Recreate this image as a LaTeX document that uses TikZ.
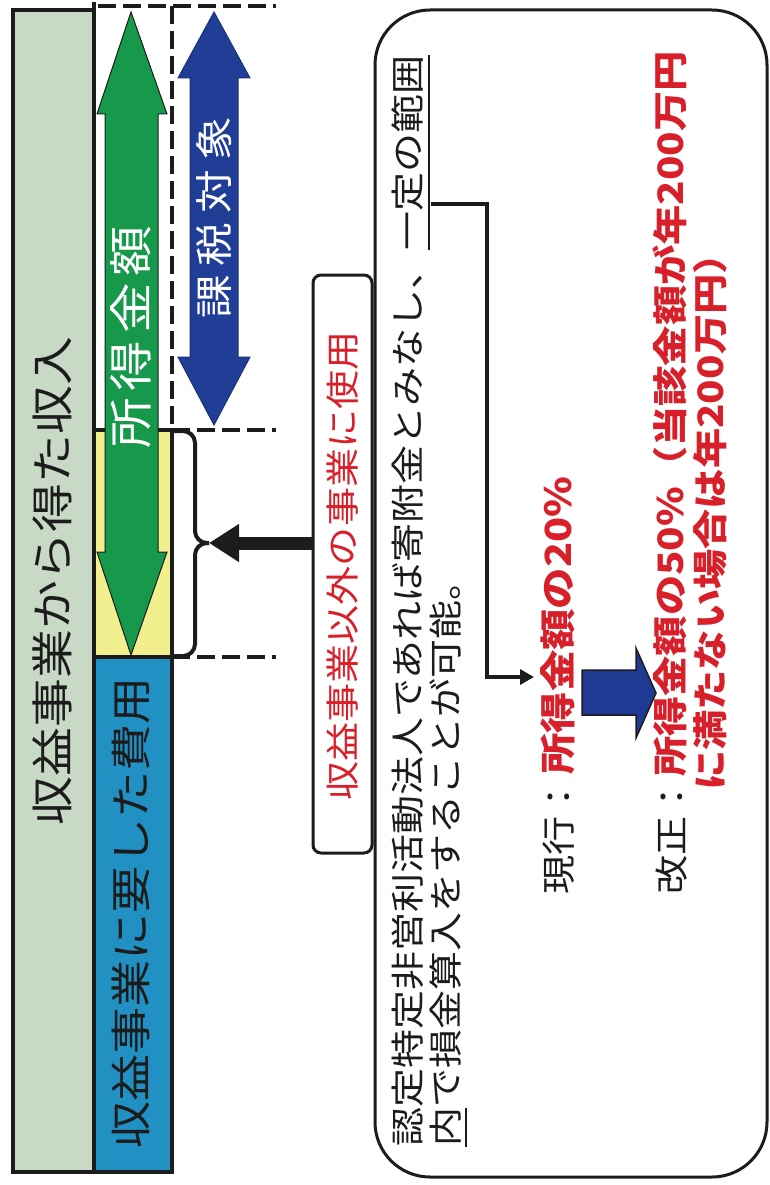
\documentclass[tikz,border=0pt]{standalone}
\usepackage{fontspec}
\newfontfamily\jp{Noto Sans CJK JP}
\usetikzlibrary{arrows.meta,calc}
\definecolor{sage}{HTML}{C8DAC6}
\definecolor{paleyel}{HTML}{F2EF8E}
\definecolor{colblue}{HTML}{2190C2}
\definecolor{argreen}{HTML}{16994A}
\definecolor{arblue}{HTML}{213E97}
\definecolor{fatblue}{HTML}{1F3A93}
\definecolor{jred}{HTML}{D8202B}
\definecolor{ink}{HTML}{1C1C1C}
\newcommand\jstrut{\vrule width0pt height.88em depth.12em\relax}
\begin{document}
\begin{tikzpicture}[x=1pt,y=-1pt,
  vtext/.style={rotate=90, xscale=1.15, inner sep=0pt, anchor=west, execute at begin node=\jstrut},
  fs/.style={font=\jp\fontsize{#1}{#1}\selectfont},
  fsb/.style={font=\jp\bfseries\fontsize{#1}{#1}\selectfont},
  dashline/.style={ink, line width=4pt, dash pattern=on 18pt off 7pt},
  frame/.style={ink, line width=4pt},
  conn/.style={ink, line width=3.5pt},
  ulline/.style={ink, line width=1.6pt}]
\useasboundingbox (0,0) rectangle (770,1185);
\fill[white] (0,0) rectangle (770,1185);

% left columns
\draw[frame, fill=sage] (13,10) rectangle (94,1172);
\draw[frame, fill=paleyel] (94,430) rectangle (172,657);
\draw[frame, fill=colblue] (94,657) rectangle (172,1172);
\draw[frame] (94,2) -- (94,430);

% dashed guide lines
\draw[dashline] (98,6) -- (276,6);
\draw[dashline] (172,6) -- (172,430);
\draw[dashline] (172,430) -- (276,430);
\draw[dashline] (172,657) -- (276,657);

% green double arrow
\draw[ink, line width=1pt, fill=argreen]
  (131,12) -- (167,114) -- (158,114) -- (158,552) -- (167,552) -- (131,655)
  -- (97,552) -- (105,552) -- (105,114) -- (97,114) -- cycle;
% blue double arrow
\draw[arblue!80!black, line width=1pt, fill=arblue]
  (214,12) -- (250,78) -- (238,78) -- (238,357) -- (250,357) -- (214,425)
  -- (178,357) -- (190,357) -- (190,78) -- (178,78) -- cycle;

% column texts
\node[vtext, anchor=center, fs=42.5, text=ink] (income) at (52,581) {収益事業から得た収入};
\node[vtext, anchor=center, fs=41, text=ink] (cost) at (131,913) {収益事業に要した費用};
\node[vtext, anchor=center, fs=44, text=white] (shotoku) at (131,337) {所\hspace{6pt}得\hspace{6pt}金\hspace{6pt}額};
\node[vtext, anchor=center, fs=38, text=white] (kazei) at (214,218) {課\hspace{7.8pt}税\hspace{7.8pt}対\hspace{7.8pt}象};

% brace
\coordinate (bracetip) at (209,543);
\draw[ink, line width=4pt, rounded corners=12pt] (173,431) -- (195,431) -- (195,543) -- (bracetip);
\draw[ink, line width=4pt, rounded corners=12pt] (173,656) -- (195,656) -- (195,543) -- (bracetip);

% small box
\node[draw=ink, line width=3pt, rounded corners=8pt, minimum width=59pt, minimum height=578pt, inner sep=0pt] (usebox) at (342.5,564) {};
\node[vtext, anchor=center, fs=34, text=jred] (usetext) at (343,566) {収益事業以外の事業に使用};
\draw[ink, line width=13pt, -{Triangle[length=30pt, width=36pt]}] (usebox.west |- bracetip) -- (bracetip);

% big box
\draw[ink, line width=3pt, rounded corners=55pt] (375,10) rectangle (767,1177);

\node[vtext, fs=33.9, text=ink] (l1a) at (408,1147) {認定特定非営利活動法人であれば寄附金とみなし、};
\node[vtext, fs=33.9, text=ink] (l1b) at (l1a.east) {一定の範囲};
\node[vtext, fs=33.9, text=ink] (l2a) at (446,1147) {内};
\node[vtext, fs=33.9, text=ink] (l2b) at (l2a.east) {で損金算入をすることが可能。};
\draw[ulline] ([xshift=4pt]l1b.south west) -- ([xshift=4pt]l1b.south east);
\draw[ulline] ([xshift=3pt]l2a.south west) -- ([xshift=3pt]l2a.south east);

\node[vtext, fs=34, text=ink] (genko) at (559,895) {現行：};
\node[vtext, fsb=36, text=jred] (cur) at (558,775) {所得金額の20\%};
\node[vtext, fs=34, text=ink] (kaisei) at (672,895) {改正：};
\node[vtext, fsb=35, text=jred] (rev1) at (670,777) {所得金額の50\%（当該金額が年200万円};
\node[vtext, fsb=35, text=jred] (rev2) at (710,791) {に満たない場合は年200万円）};

% connector from underline to current rule
\coordinate (ulc) at (431,204);
\coordinate (tipcur) at (534,677);
\draw[conn, -{Triangle[length=14pt, width=15pt]}] (ulc) -- (487,204) |- (tipcur);

% fat arrow current -> revised
\draw[ink, line width=1.5pt, fill=fatblue]
  (582,670) -- (636,670) -- (636,648) -- (656,693) -- (636,738) -- (636,715) -- (582,715) -- cycle;
\end{tikzpicture}
\end{document}
